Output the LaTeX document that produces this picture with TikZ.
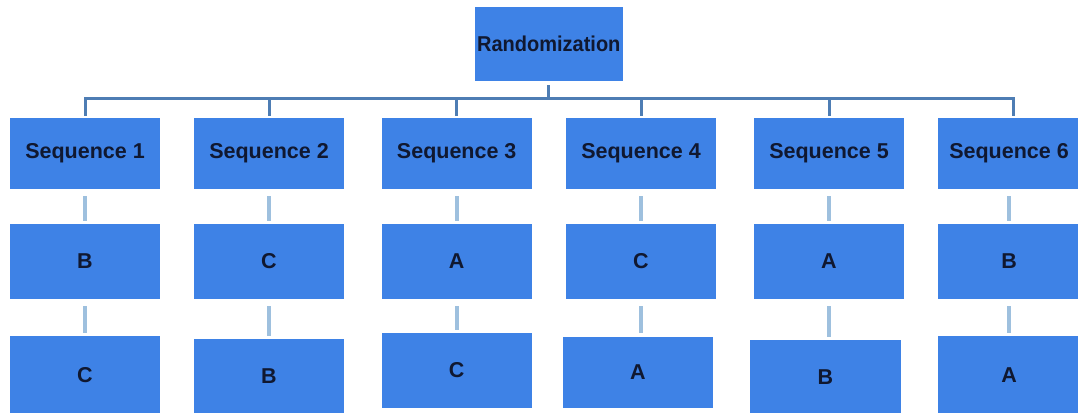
\documentclass[tikz,border=0pt]{standalone}
\usepackage{fontspec}
\setmainfont{Liberation Sans}
\newfontfamily\boxfont{Liberation Sans}
\newfontfamily\narrowfont[FakeStretch=0.93]{Liberation Sans}
\definecolor{boxblue}{RGB}{62,130,230}
\definecolor{treeline}{RGB}{78,125,180}
\definecolor{linklight}{RGB}{158,192,222}
\definecolor{txt}{RGB}{16,24,48}
\begin{document}
\begin{tikzpicture}[x=1pt,y=-1pt,
  bx/.style={fill=boxblue,draw=none,inner sep=0pt,minimum width=150pt,
    text=txt,font=\boxfont\bfseries\fontsize{21.5}{24}\selectfont},
  treeln/.style={draw=treeline,line width=3pt},
  link/.style={draw=linklight,line width=4pt}]
\useasboundingbox (0,0) rectangle (1078,412);
\clip (0,0) rectangle (1078,412);
% top
\node[bx,minimum width=147.7pt,minimum height=73.7pt,
  font=\narrowfont\bfseries\fontsize{21.5}{24}\selectfont] (rand) at (548.8,44.2) {Randomization};
% sequence row
\node[bx,minimum height=71pt] (s1) at (85,153.5) {Sequence 1};
\node[bx,minimum height=71pt] (s2) at (269,153.5) {Sequence 2};
\node[bx,minimum height=71pt] (s3) at (456.7,153.5) {Sequence 3};
\node[bx,minimum height=71pt] (s4) at (641,153.5) {Sequence 4};
\node[bx,minimum height=71pt] (s5) at (829,153.5) {Sequence 5};
\node[bx,minimum height=71pt,minimum width=142pt] (s6) at (1009,153.5) {Sequence 6};
% second row
\node[bx,minimum height=75pt] (a1) at (85,261.5) {B};
\node[bx,minimum height=75pt] (a2) at (269,261.5) {C};
\node[bx,minimum height=75pt] (a3) at (456.7,261.5) {A};
\node[bx,minimum height=75pt] (a4) at (641,261.5) {C};
\node[bx,minimum height=75pt] (a5) at (829,261.5) {A};
\node[bx,minimum height=75pt,minimum width=142pt] (a6) at (1009,261.5) {B};
% third row
\node[bx,minimum height=78pt] (b1) at (85,375) {C};
\node[bx,minimum height=75pt] (b2) at (269,376.5) {B};
\node[bx,minimum height=75pt] (b3) at (456.7,370.5) {C};
\node[bx,minimum height=71.3pt] (b4) at (638,372.3) {A};
\node[bx,minimum height=74pt,minimum width=151pt] (b5) at (825.5,377) {B};
\node[bx,minimum height=78pt,minimum width=142pt] (b6) at (1009,375) {A};
% tree connectors
\coordinate (bar) at (548.8,98.5);
\draw[treeln] ([yshift=-4pt]rand.south) -- (rand.south |- bar);
\draw[treeln,line cap=rect] (s1.north |- bar) -- ([xshift=4pt]s6.north |- bar);
\foreach \s in {s1,s2,s3,s4,s5}{
  \draw[treeln] (\s.north |- bar) -- ([yshift=2pt]\s.north);
}
\draw[treeln] ([xshift=4pt]s6.north |- bar) -- ([xshift=4pt,yshift=2pt]s6.north);
% light connectors
\foreach \i in {1,...,6}{
  \draw[link] ([yshift=-7pt]s\i.south) -- ([yshift=3pt]s\i.south |- a\i.north);
  \draw[link] ([yshift=-7pt]a\i.south) -- ([yshift=3pt]a\i.south |- b\i.north);
}
\end{tikzpicture}
\end{document}
